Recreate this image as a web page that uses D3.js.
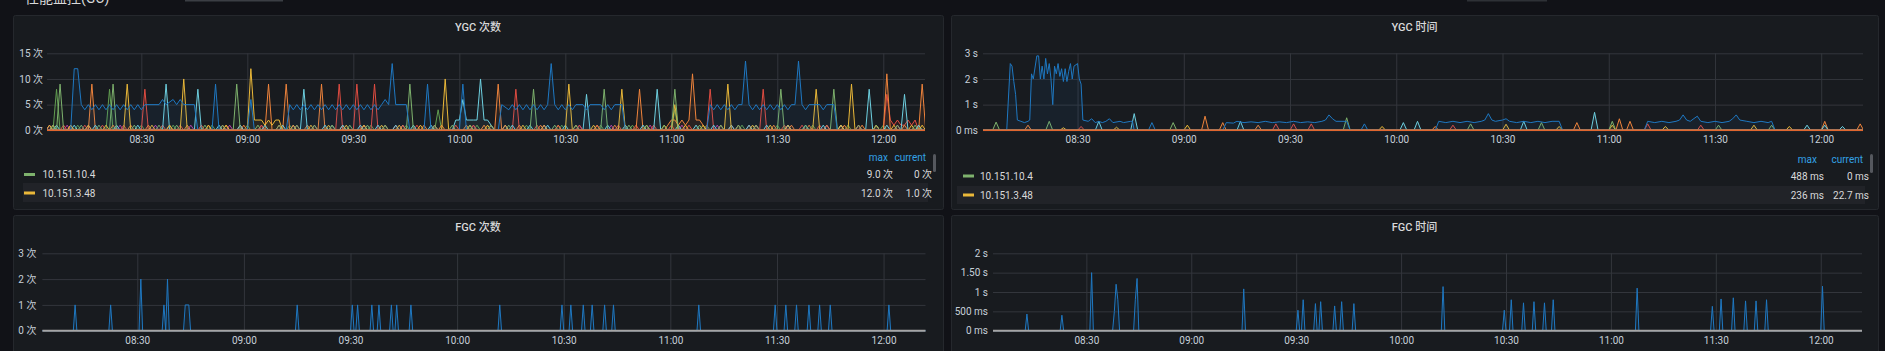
<!DOCTYPE html>
<html>
<head>
<meta charset="utf-8">
<script src="https://cdn.jsdelivr.net/npm/d3@7"></script>
<style>
  body { margin: 0; background: #111217; overflow: hidden; }
  text { font-family: Roboto, "Noto Sans CJK SC", sans-serif; }
</style>
</head>
<body>
<script>
// ---- shared time axis ----
const timeStart = "08:03:18";
const timeEnd = "12:11:48";
const gridStart = "08:03";
const gridEnd = "12:12";
const timeTicks = ["08:30", "09:00", "09:30", "10:00", "10:30", "11:00", "11:30", "12:00"];

// ---- YGC 次数 ----
const ygcCountTicks = [0, 5, 10, 15];
const ygcCountTickLabels = ["0 次", "5 次", "10 次", "15 次"];
const ygcCountLegendHosts = ["10.151.10.4", "10.151.3.48"];
const ygcCountLegendMax = ["9.0 次", "12.0 次"];
const ygcCountLegendCurrent = ["0 次", "1.0 次"];

// spike hosts: only the non-zero minutes are listed
const ygcCountGreen = [["08:05",1],["08:07",9],["08:13",1],["08:18",1],["08:22",9],["08:28",1],["08:35",1],["08:40",1],["08:48",1],["08:53",1],["08:57",9],["09:03",1],["09:09",1],["09:14",1],["09:19",1],["09:24",1],["09:29",1],["09:34",1],["09:39",1],["09:46",9],["09:53",1],["09:58",1],["10:03",1],["10:09",1],["10:14",1],["10:21",8],["10:27",1],["10:33",1],["10:41",8],["10:48",1],["10:53",1],["10:58",1],["11:01",8],["11:08",1],["11:14",1],["11:19",1],["11:24",1],["11:31",8],["11:38",1],["11:46",8],["11:53",1],["11:58",1],["12:04",1],["12:09",1]];
const ygcCountYellow = [["08:04",1],["08:10",1],["08:15",1],["08:20",1],["08:26",9],["08:33",1],["08:38",1],["08:42",10],["08:49",1],["08:54",1],["09:01",12],["09:02",2],["09:03",2],["09:04",2],["09:05",1],["09:06",2],["09:07",1],["09:08",2],["09:09",2],["09:13",1],["09:18",1],["09:23",1],["09:28",1],["09:33",1],["09:38",1],["09:43",1],["09:49",1],["09:56",10],["10:03",1],["10:08",1],["10:13",1],["10:18",1],["10:24",1],["10:31",9],["10:38",1],["10:46",8],["10:53",1],["10:58",1],["11:01",5],["11:04",1],["11:09",1],["11:16",9],["11:23",1],["11:28",1],["11:33",1],["11:41",8],["11:48",1],["11:51",9],["11:58",1],["12:03",1],["12:08",1],["12:11",1]];
const ygcCountCyan = [["08:06",1],["08:11",1],["08:17",1],["08:23",1],["08:29",1],["08:37",9],["08:46",8],["08:52",1],["08:58",1],["09:05",1],["09:10",1],["09:16",8],["09:22",1],["09:27",1],["09:32",1],["09:37",1],["09:42",1],["09:47",1],["09:52",1],["09:59",2],["10:00",2],["10:01",6],["10:02",2],["10:03",2],["10:04",2],["10:05",2],["10:06",10],["10:07",2],["10:08",2],["10:09",1],["10:15",1],["10:20",1],["10:25",1],["10:30",1],["10:36",7],["10:42",1],["10:47",1],["10:52",1],["10:56",8],["11:02",1],["11:07",1],["11:12",1],["11:17",1],["11:22",1],["11:27",1],["11:33",1],["11:38",1],["11:43",1],["11:48",1],["11:56",8],["12:01",1],["12:06",7],["12:10",1]];
const ygcCountOrange = [["08:05",1],["08:10",1],["08:16",9],["08:22",1],["08:27",1],["08:32",1],["08:38",1],["08:43",1],["08:49",1],["08:54",1],["08:59",1],["09:06",9],["09:11",9],["09:17",1],["09:21",9],["09:27",1],["09:33",1],["09:39",1],["09:44",1],["09:50",1],["09:55",1],["10:02",1],["10:07",1],["10:11",9],["10:17",1],["10:23",1],["10:28",1],["10:33",1],["10:39",1],["10:44",1],["10:51",8],["10:59",1],["11:00",2],["11:01",2],["11:02",1],["11:03",2],["11:04",1],["11:05",2],["11:06",11],["11:07",2],["11:08",2],["11:09",1],["11:14",1],["11:19",1],["11:24",1],["11:29",1],["11:34",1],["11:39",1],["11:44",1],["11:49",1],["11:54",1],["12:01",11],["12:06",1],["12:11",9]];
const ygcCountRed = [["08:08",1],["08:14",1],["08:19",1],["08:25",1],["08:31",8],["08:36",1],["08:41",1],["08:47",1],["08:53",1],["08:58",1],["09:04",1],["09:09",1],["09:14",1],["09:19",1],["09:26",9],["09:31",9],["09:36",9],["09:42",1],["09:48",1],["09:53",1],["09:59",1],["10:04",1],["10:09",1],["10:16",8],["10:22",1],["10:28",1],["10:34",1],["10:39",1],["10:45",1],["10:50",1],["10:55",1],["11:00",1],["11:05",1],["11:11",8],["11:17",1],["11:22",1],["11:26",8],["11:32",1],["11:37",1],["11:42",1],["11:48",1],["11:53",1],["11:58",1],["12:01",7],["12:02",2],["12:03",1],["12:04",2],["12:05",1],["12:06",1],["12:07",2],["12:08",1],["12:09",2]];
const ygcCountOlive = [["08:06",8],["08:12",1],["08:21",8],["08:30",1],["08:39",1],["08:50",1],["09:00",1],["09:12",1],["09:24",1],["09:35",1],["09:45",1],["09:54",4],["10:05",1],["10:19",1],["10:29",1],["10:40",1],["10:49",1],["11:01",4],["11:10",1],["11:20",1],["11:30",1],["11:40",1],["11:50",1],["12:00",1],["12:10",1]];
const ygcCountPurple = [["08:04",1],["08:09",1],["08:15",1],["08:24",1],["08:34",1],["08:44",1],["08:55",1],["09:04",1],["09:13",1],["09:24",1],["09:33",1],["09:44",1],["09:53",1],["10:04",1],["10:13",1],["10:24",1],["10:34",1],["10:43",1],["10:54",1],["11:03",1],["11:13",1],["11:24",1],["11:33",1],["11:44",1],["11:53",1],["12:04",1]];
// the blue host is written out point by point (plateau around 5)
const ygcCountBlue = [["08:03",0],["08:10",0],["08:11",12],["08:12",12],["08:13",5],
  ["08:14",4],["08:15",5],["08:16",4],["08:17",5],["08:18",4],["08:19",5],["08:20",4],["08:21",5],["08:22",4],["08:23",5],["08:24",4],["08:25",5],["08:26",4],["08:27",5],["08:28",4],["08:29",5],["08:30",4],["08:31",5],
  ["08:35",5],["08:36",6],["08:37",5],["08:39",6],["08:40",5],["08:41",6],["08:42",5],["08:45",5],["08:46",0],
  ["08:50",0],["08:51",9],["08:52",0],["09:00",0],["09:01",6],["09:02",0],
  ["09:11",0],["09:12",5],["09:13",4],["09:14",5],["09:15",4],["09:16",5],["09:17",4],["09:18",5],["09:19",4],["09:20",5],["09:21",4],["09:22",5],["09:23",4],["09:24",5],["09:25",4],["09:26",5],["09:27",4],["09:28",5],["09:29",4],["09:30",5],["09:31",4],["09:32",5],["09:33",4],["09:34",5],["09:35",4],["09:36",5],["09:37",4],["09:38",5],
  ["09:39",6],["09:40",5],["09:41",13],["09:42",5],["09:45",5],["09:46",0],
  ["09:50",0],["09:51",9],["09:52",0],["10:00",0],["10:01",9],["10:02",0],
  ["10:11",0],["10:12",5],["10:14",4],["10:15",5],["10:16",4],["10:17",5],["10:18",4],["10:19",5],["10:20",4],["10:21",5],["10:22",4],["10:23",5],["10:24",4],["10:25",5],
  ["10:26",13],["10:27",5],["10:28",4],["10:29",5],["10:30",4],["10:31",5],["10:32",4],["10:33",5],["10:35",5],["10:36",4],["10:37",5],["10:40",5],["10:41",4],["10:42",5],["10:43",4],["10:44",5],["10:46",5],["10:47",0],
  ["11:10",0],["11:11",5],["11:12",4],["11:13",5],["11:14",4],["11:15",5],["11:16",4],["11:17",5],["11:18",4],["11:19",5],["11:20",5],
  ["11:21",13.5],["11:22",5],["11:23",4],["11:24",5],["11:25",4],["11:26",5],["11:27",4],["11:28",5],["11:29",4],["11:30",5],["11:31",4],["11:32",5],["11:33",4],["11:34",5],["11:35",5],
  ["11:36",13.5],["11:37",5],["11:38",4],["11:39",5],["11:42",5],["11:43",4],["11:44",5],["11:46",5],["11:47",0],["12:12",0]];
const ygcCountZero = [["08:03",0],["12:12",0]];

// ---- YGC 时间 (seconds) ----
const ygcTimeTicks = [0, 1, 2, 3];
const ygcTimeTickLabels = ["0 ms", "1 s", "2 s", "3 s"];
const ygcTimeLegendMax = ["488 ms", "236 ms"];
const ygcTimeLegendCurrent = ["0 ms", "22.7 ms"];

const ygcTimeGreen = [["08:07",0.32],["08:22",0.35],["08:57",0.3],["09:46",0.488],["10:21",0.25],["10:41",0.3],["11:01",0.35],["11:31",0.2],["11:46",0.2]];
const ygcTimeYellow = [["08:26",0.1],["08:41",0.12],["09:01",0.2],["09:56",0.15],["10:31",0.236],["10:46",0.15],["11:01",0.2],["11:16",0.15],["11:41",0.2],["11:51",0.15],["12:11",0.0227]];
const ygcTimeCyan = [["08:36",0.35],["08:46",0.65],["09:16",0.35],["10:02",0.3],["10:06",0.35],["10:36",0.35],["10:56",0.7],["11:56",0.2],["12:01",0.2],["12:06",0.15]];
const ygcTimeOrange = [["08:16",0.2],["09:06",0.55],["09:11",0.3],["09:21",0.2],["10:11",0.15],["10:51",0.3],["11:03",0.45],["11:06",0.35],["12:01",0.35],["12:11",0.25]];
const ygcTimeRed = [["08:31",0.15],["09:26",0.25],["09:31",0.25],["09:36",0.25],["10:16",0.2],["11:11",0.25],["11:26",0.2]];
const ygcTimeBlue = [["08:03",0],["08:10",0],["08:11",2.6],["08:11:30",2.5],["08:12",1.9],["08:12:30",1.4],["08:13",0.4],["08:14",0.35],["08:15",0.3],["08:16",0.35],["08:16:30",0.4],
  ["08:17",2.2],["08:17:30",2.0],["08:18:30",2.9],["08:19",2.9],["08:19:30",2.0],["08:20",2.5],["08:20:30",2.0],["08:21",2.8],["08:21:30",2.2],["08:22",2.6],["08:22:30",2.0],["08:23",1.0],["08:23:30",2.5],["08:24",2.2],["08:24:30",2.6],["08:25",2.1],["08:25:30",2.4],["08:26",1.9],["08:26:30",2.4],["08:27",1.9],["08:27:30",2.3],["08:28",2.6],["08:28:30",2.0],["08:29",2.5],["08:30",2.6],["08:30:30",2.0],["08:31",1.8],["08:31:30",0.4],
  ["08:33",0.35],["08:34",0.45],["08:35",0.3],["08:36",0.35],["08:37",0.3],["08:38",0.35],["08:39",0.45],["08:40",0.3],["08:42",0.35],["08:43",0.3],["08:45",0.35],["08:45:30",0.35],["08:46",0],
  ["08:50",0],["08:51",0.3],["08:52",0],
  ["09:11",0],["09:12",0.3],["09:14",0.28],["09:15",0.35],["09:17",0.3],["09:19",0.33],["09:21",0.3],["09:23",0.35],["09:25",0.3],["09:27",0.33],["09:29",0.3],["09:31",0.35],["09:33",0.3],["09:35",0.33],["09:37",0.3],["09:39",0.35],["09:40",0.4],["09:41",0.6],["09:42",0.45],["09:43",0.35],["09:46",0.35],["09:47",0],
  ["09:50",0],["09:51",0.25],["09:52",0],
  ["10:11",0],["10:12",0.35],["10:14",0.3],["10:16",0.35],["10:18",0.3],["10:20",0.35],["10:22",0.3],["10:24",0.35],["10:25",0.4],["10:26",0.65],["10:27",0.4],["10:28",0.35],["10:30",0.4],["10:31",0.45],["10:32",0.35],["10:34",0.3],["10:36",0.35],["10:38",0.3],["10:40",0.35],["10:42",0.3],["10:44",0.35],["10:46",0.35],["10:47",0],
  ["11:10",0],["11:11",0.35],["11:13",0.3],["11:15",0.35],["11:17",0.3],["11:19",0.35],["11:20",0.4],["11:21",0.6],["11:22",0.4],["11:23",0.35],["11:25",0.55],["11:26",0.35],["11:28",0.3],["11:30",0.35],["11:32",0.3],["11:34",0.35],["11:35",0.45],["11:36",0.6],["11:37",0.4],["11:39",0.35],["11:41",0.3],["11:43",0.35],["11:45",0.3],["11:46",0.35],["11:47",0],["12:12",0]];
const ygcTimeZero = [["08:03",0],["12:12",0]];

// ---- FGC 次数 ----
const fgcCountTicks = [0, 1, 2, 3];
const fgcCountTickLabels = ["0 次", "1 次", "2 次", "3 次"];
const fgcCountBlue = [["08:12:30",1],["08:22:30",1],["08:31:00",2],["08:37:30",1],["08:38:30",2],["08:43:30",1],["08:44:00",1],["08:44:30",1],["09:15:00",1],["09:30:30",1],["09:32:00",1],["09:36:00",1],["09:38:00",1],["09:41:30",1],["09:43:00",1],["09:47:00",1],["10:12:00",1],["10:29:30",1],["10:32:00",1],["10:35:30",1],["10:38:00",1],["10:41:30",1],["10:44:00",1],["11:08:00",1],["11:29:30",1],["11:32:30",1],["11:35:30",1],["11:39:00",1],["11:42:00",1],["11:45:00",1],["12:01:30",1]];
const fgcCountZero = [["08:03",0],["12:12",0]];

// ---- FGC 时间 (seconds) ----
const fgcTimeTicks = [0, 0.5, 1, 1.5, 2];
const fgcTimeTickLabels = ["0 ms", "500 ms", "1 s", "1.50 s", "2 s"];
const fgcTimeBlue = [["08:13:00",0.43],["08:23:00",0.4],["08:31:30",1.5],["08:38:00",0.5],["08:38:30",1.2],["08:39:00",0.8],["08:44:00",0.8],["08:44:30",1.35],["09:15:00",1.08],["09:30:30",0.53],["09:32:00",0.8],["09:35:30",0.7],["09:37:00",0.75],["09:41:00",0.64],["09:43:00",0.75],["09:46:30",0.7],["10:12:00",1.14],["10:29:30",0.53],["10:31:30",0.8],["10:35:00",0.72],["10:38:00",0.75],["10:41:00",0.72],["10:43:30",0.8],["11:07:30",1.1],["11:29:00",0.63],["11:31:30",0.82],["11:35:00",0.85],["11:38:30",0.77],["11:41:30",0.77],["11:44:30",0.8],["12:00:30",1.15]];
const fgcTimeZero = [["08:03",0],["12:12",0]];

// ---- helpers ----
const parseTime = s => {
  const p = s.split(":").map(Number);
  return new Date(2021, 0, 1, p[0], p[1], p[2] || 0);
};

// spike hosts: fill a regular sample grid, zero where nothing is listed
function sampleSeries(peaks, stepSec) {
  const lookup = new Map(peaks.map(([t, v]) => [+parseTime(t), v]));
  const pts = [];
  for (let ms = +parseTime(gridStart); ms <= +parseTime(gridEnd); ms += stepSec * 1000)
    pts.push({ t: new Date(ms), v: lookup.get(ms) || 0 });
  return pts;
}
const asPoints = arr => arr.map(([t, v]) => ({ t: parseTime(t), v }));

const svg = d3.select("body").append("svg")
  .attr("width", 1885)
  .attr("height", 351);

// dashboard row header, mostly scrolled out of view at the very top
svg.append("text").attr("x", 25).attr("y", 3).attr("fill", "#d8d9da")
  .style("font-size", "14px").text("性能监控(GC)");
svg.append("rect").attr("x", 185).attr("y", 0).attr("width", 98).attr("height", 1.5).attr("fill", "#3b3e44");
svg.append("rect").attr("x", 1467).attr("y", 0).attr("width", 80).attr("height", 1.5).attr("fill", "#2e3136");

function drawPanel(p) {
  const g = svg.append("g");
  const [bx, by, bw, bh] = p.box;
  g.append("rect")
    .attr("x", bx + 0.5).attr("y", by + 0.5).attr("width", bw).attr("height", bh)
    .attr("rx", 2).attr("fill", "#181b1f").attr("stroke", "#25282d");

  g.append("text")
    .attr("x", bx + bw / 2).attr("y", p.titleY).attr("dy", "0.35em")
    .attr("text-anchor", "middle").attr("fill", "#d8d9da")
    .style("font-size", "11px").style("font-weight", 500)
    .text(p.title);

  const { left, right, top, bottom } = p.plot;
  const x = d3.scaleTime()
    .domain([parseTime(timeStart), parseTime(timeEnd)])
    .range([left, right]);
  const y = d3.scaleLinear()
    .domain([0, p.yMax])
    .range([bottom, top]);

  // horizontal grid + y labels
  g.append("g")
    .attr("transform", `translate(${left},0)`)
    .call(d3.axisLeft(y).tickValues(p.yTicks).tickFormat((d, i) => p.yLabels[i])
      .tickSize(-(right - left)).tickPadding(p.yPad))
    .call(a => a.select(".domain").remove())
    .call(a => a.selectAll("line").attr("stroke", "#33363c"))
    .call(a => a.selectAll("text").attr("fill", "#c7d0d9").style("font-size", "10px"));

  // vertical grid + time labels
  g.append("g")
    .attr("transform", `translate(0,${bottom})`)
    .call(d3.axisBottom(x).tickValues(timeTicks.map(parseTime)).tickFormat(d3.timeFormat("%H:%M"))
      .tickSize(-(bottom - top)).tickPadding(6))
    .call(a => a.select(".domain").remove())
    .call(a => a.selectAll("line").attr("stroke", "#33363c"))
    .call(a => a.selectAll("text").attr("fill", "#c7d0d9").style("font-size", "10px"));

  const clipId = "clip" + p.id;
  svg.append("clipPath").attr("id", clipId)
    .append("rect").attr("x", left).attr("y", top - 10).attr("width", right - left).attr("height", bottom - top + 12);

  const layer = g.append("g").attr("clip-path", `url(#${clipId})`);
  const line = d3.line().x(d => x(d.t)).y(d => y(d.v));
  const area = d3.area().x(d => x(d.t)).y0(y(0)).y1(d => y(d.v));

  p.series.forEach(s => {
    const pts = s.step ? sampleSeries(s.data, s.step) : asPoints(s.data);
    if (s.fill) {
      layer.append("path").datum(pts).attr("d", area)
        .attr("fill", s.color).attr("fill-opacity", s.fill);
    }
    layer.append("path").datum(pts).attr("d", line)
      .attr("fill", "none").attr("stroke", s.color)
      .attr("stroke-width", s.width || 1).attr("stroke-linejoin", "round");
  });

  if (!p.legend) return;
  const L = p.legend;
  g.append("rect").attr("x", L.hl[0]).attr("y", L.hl[1]).attr("width", L.hl[2]).attr("height", L.hl[3])
    .attr("fill", "#212328");
  g.append("rect").attr("x", L.scroll[0]).attr("y", L.scroll[1]).attr("width", 3).attr("height", L.scroll[2])
    .attr("rx", 1.5).attr("fill", "#55585e");

  [["max", L.maxHead], ["current", L.curHead]].forEach(([label, hx]) => {
    g.append("text").attr("x", hx).attr("y", L.headY).attr("dy", "0.35em")
      .attr("text-anchor", "end").attr("fill", "#33a2e5").style("font-size", "10px").text(label);
  });

  L.hosts.forEach((h, i) => {
    const ry = L.rowY[i];
    g.append("rect").attr("x", L.swatchX).attr("y", ry - 1.5).attr("width", 11).attr("height", 3)
      .attr("fill", L.colors[i]);
    g.append("text").attr("x", L.nameX).attr("y", ry).attr("dy", "0.35em")
      .attr("fill", "#d8d9da").style("font-size", "10px").text(h);
    g.append("text").attr("x", L.maxX).attr("y", ry).attr("dy", "0.35em").attr("text-anchor", "end")
      .attr("fill", "#d8d9da").style("font-size", "10px").text(L.max[i]);
    g.append("text").attr("x", L.curX).attr("y", ry).attr("dy", "0.35em").attr("text-anchor", "end")
      .attr("fill", "#d8d9da").style("font-size", "10px").text(L.cur[i]);
  });
}

const C = {
  green: "#7EB26D", yellow: "#EAB839", cyan: "#6ED0E0", orange: "#EF843C",
  red: "#E24D42", blue: "#1F78C1", olive: "#629E51", purple: "#BA43A9",
  grey: "#8e8e8e", zero: "#E0662E"
};

drawPanel({
  id: 1, box: [13, 15, 930, 194], titleY: 27, title: "YGC 次数",
  plot: { left: 47, right: 925, top: 53.3, bottom: 130.3 },
  yMax: 15, yTicks: ygcCountTicks, yLabels: ygcCountTickLabels, yPad: 4,
  series: [
    { data: ygcCountPurple, step: 60, color: C.purple, fill: 0.08 },
    { data: ygcCountOlive, step: 60, color: C.olive, fill: 0.08 },
    { data: ygcCountRed, step: 60, color: C.red, fill: 0.08 },
    { data: ygcCountOrange, step: 60, color: C.orange, fill: 0.08 },
    { data: ygcCountCyan, step: 60, color: C.cyan, fill: 0.08 },
    { data: ygcCountYellow, step: 60, color: C.yellow, fill: 0.08 },
    { data: ygcCountGreen, step: 60, color: C.green, fill: 0.08 },
    { data: ygcCountBlue, color: C.blue, fill: 0.08 },
    { data: ygcCountZero, color: C.grey, width: 1.5 },
    { data: ygcCountZero, color: C.zero, width: 1.5 }
  ],
  legend: {
    hosts: ygcCountLegendHosts, max: ygcCountLegendMax, cur: ygcCountLegendCurrent,
    colors: [C.green, C.yellow],
    headY: 157, rowY: [174.5, 193], swatchX: 24, nameX: 42.5,
    maxX: 893, curX: 932, maxHead: 888, curHead: 926,
    hl: [23, 183, 905, 19], scroll: [933, 154, 18]
  }
});

drawPanel({
  id: 2, box: [951, 15, 927, 194], titleY: 27, title: "YGC 时间",
  plot: { left: 983, right: 1863, top: 53.3, bottom: 130.3 },
  yMax: 3, yTicks: ygcTimeTicks, yLabels: ygcTimeTickLabels, yPad: 5,
  series: [
    { data: ygcTimeRed, step: 60, color: C.red, fill: 0.08 },
    { data: ygcTimeOrange, step: 60, color: C.orange, fill: 0.08 },
    { data: ygcTimeCyan, step: 60, color: C.cyan, fill: 0.08 },
    { data: ygcTimeYellow, step: 60, color: C.yellow, fill: 0.08 },
    { data: ygcTimeGreen, step: 60, color: C.green, fill: 0.08 },
    { data: ygcTimeBlue, color: C.blue, fill: 0.08 },
    { data: ygcTimeZero, color: C.grey, width: 1.5 },
    { data: ygcTimeZero, color: C.zero, width: 1.5 }
  ],
  legend: {
    hosts: ygcCountLegendHosts, max: ygcTimeLegendMax, cur: ygcTimeLegendCurrent,
    colors: [C.green, C.yellow],
    headY: 159, rowY: [176, 195], swatchX: 963, nameX: 980,
    maxX: 1824, curX: 1869, maxHead: 1817, curHead: 1863,
    hl: [957, 186, 908, 18], scroll: [1870, 154, 19]
  }
});

drawPanel({
  id: 3, box: [13, 215, 930, 150], titleY: 227.3, title: "FGC 次数",
  plot: { left: 42.4, right: 925.5, top: 253.3, bottom: 330.7 },
  yMax: 3, yTicks: fgcCountTicks, yLabels: fgcCountTickLabels, yPad: 6,
  series: [
    { data: fgcCountBlue, step: 30, color: C.blue, fill: 0.1 },
    { data: fgcCountZero, color: "#a5a5a5", width: 2 }
  ]
});

drawPanel({
  id: 4, box: [951, 215, 927, 150], titleY: 227.3, title: "FGC 时间",
  plot: { left: 993, right: 1862, top: 253.3, bottom: 330.7 },
  yMax: 2, yTicks: fgcTimeTicks, yLabels: fgcTimeTickLabels, yPad: 5,
  series: [
    { data: fgcTimeBlue, step: 30, color: C.blue, fill: 0.1 },
    { data: fgcTimeZero, color: "#a5a5a5", width: 2 }
  ]
});
</script>
</body>
</html>
